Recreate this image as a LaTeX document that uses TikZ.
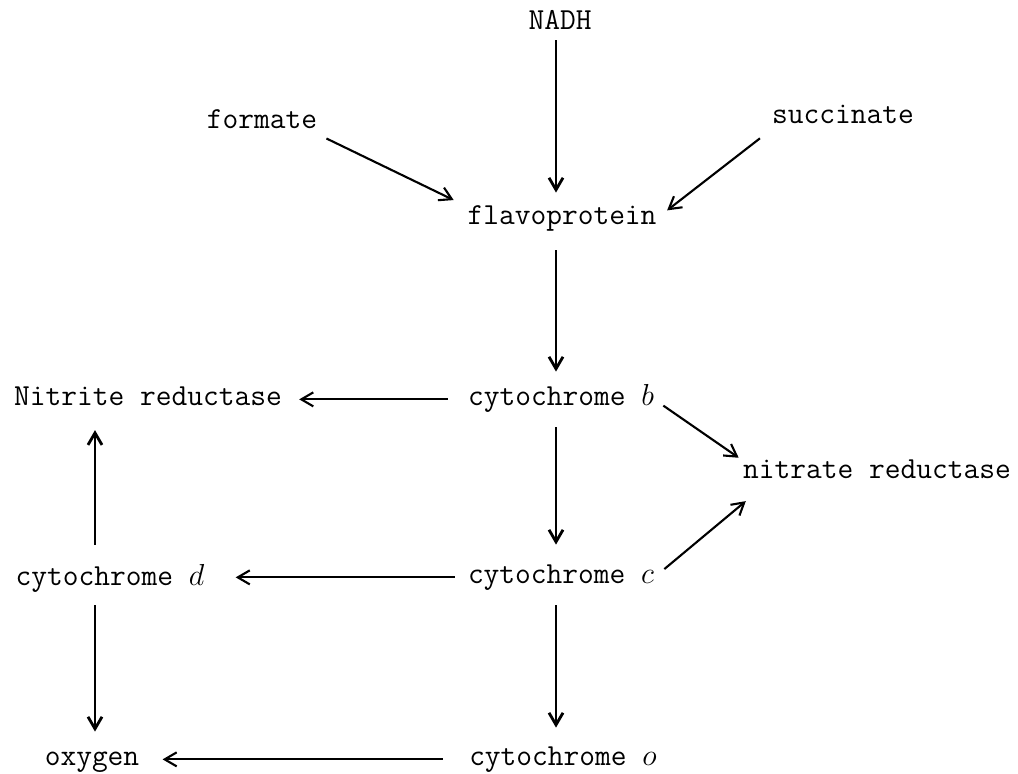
\documentclass[tikz,border=0pt]{standalone}
\usepackage{fontspec}
\usetikzlibrary{arrows.meta}

\tikzset{
    chem/.style={font=\ttfamily\fontsize{17.4}{20}\selectfont, inner sep=0pt,
        text height=10pt, text depth=3pt, anchor=base},
    arr/.style={-{Straight Barb[length=2.4mm,width=2.8mm]}, line width=1.2pt,
        shorten <=0.34cm, shorten >=0.34cm},
    varr/.style={arr, line width=1.6pt}
}

\begin{document}
\begin{tikzpicture}
\useasboundingbox (0,0) rectangle (20.36,-15.46);
\coordinate (midcol) at (11.12,0);
\coordinate (leftcol) at (1.9,0);

\node[chem] (nadh) at (11.2,-0.59) {NADH};
\node[chem] (formate) at (5.24,-2.57) {formate};
\node[chem] (succinate) at (16.86,-2.47) {succinate};
\node[chem] (flav) at (11.24,-4.49) {flavoprotein};
\node[chem] (cytb) at (11.22,-8.11) {cytochrome $b$};
\node[chem] (nitrite) at (2.96,-8.11) {Nitrite reductase};
\node[chem] (nitrate) at (17.54,-9.57) {nitrate reductase};
\node[chem] (cytc) at (11.22,-11.67) {cytochrome $c$};
\node[chem] (cytd) at (2.2,-11.71) {cytochrome $d$};
\node[chem] (oxygen) at (1.84,-15.31) {oxygen};
\node[chem] (cyto) at (11.26,-15.31) {cytochrome $o$};

% into flavoprotein
\draw[varr, shorten <=0.1cm, shorten >=0.28cm] (nadh.south -| midcol) -- (flav.north -| midcol);
\draw[arr, shorten <=0.2cm, shorten >=0.3cm] (formate.south east) -- (flav.north west);
\draw[arr, shorten <=0.3cm, shorten >=0.26cm] (succinate.south west) -- (flav.east);

% main chain
\draw[varr, shorten <=0.4cm, shorten >=0.32cm] (flav.south -| midcol) -- (cytb.north -| midcol);
\draw[varr, shorten <=0.32cm, shorten >=0.42cm] (cytb.south -| midcol) -- (cytc.north -| midcol);
\draw[varr, shorten <=0.32cm, shorten >=0.4cm] (cytc.south -| midcol) -- (cyto.north -| midcol);

\draw[arr, shorten <=0.4cm, shorten >=0.34cm] (cytb.west) -- (cytb.west -| nitrite.east);
\draw[arr, shorten <=0.26cm, shorten >=0.62cm] (cytc.west) -- (cytc.west -| cytd.east);
\draw[arr, shorten <=0.52cm, shorten >=0.46cm] (cyto.west) -- (cyto.west -| oxygen.east);

\draw[arr, shorten <=0.22cm, shorten >=0.1cm] (cytb.east) -- (nitrate.north west);
\draw[arr, shorten <=0.26cm, shorten >=0cm] (cytc.east) -- ([shift={(0.06,-0.34)}]nitrate.south west);

% left column
\draw[varr, shorten <=0.46cm, shorten >=0.38cm] (cytd.north -| leftcol) -- (nitrite.south -| leftcol);
\draw[varr, shorten <=0.28cm, shorten >=0.32cm] (cytd.south -| leftcol) -- (oxygen.north -| leftcol);
\end{tikzpicture}
\end{document}
